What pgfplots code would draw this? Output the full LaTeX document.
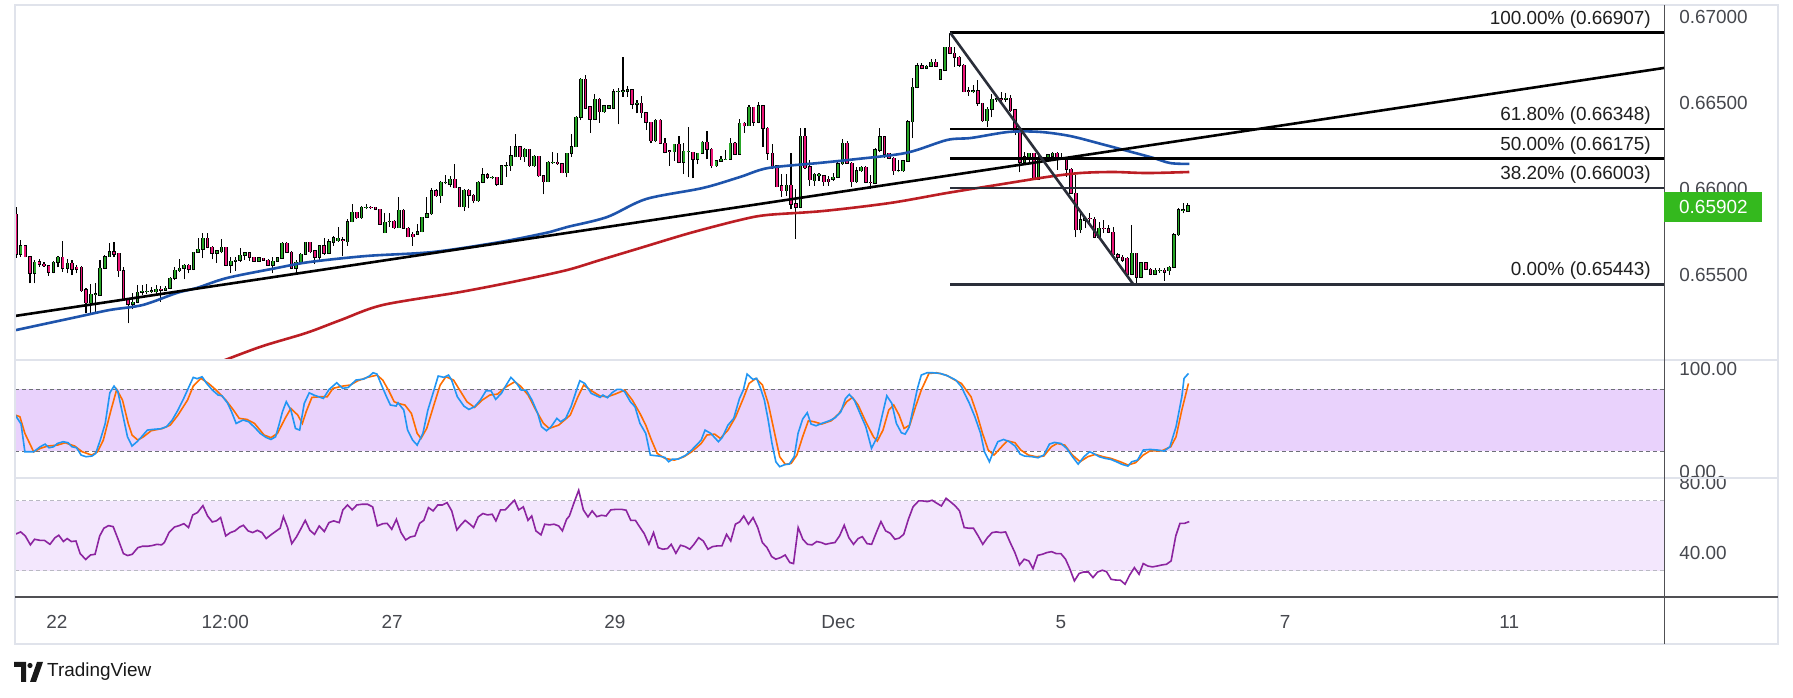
\documentclass[border=0pt]{standalone}
\usepackage{fontspec}
\setmainfont{Liberation Sans}
\usepackage{pgfplots}
\pgfplotsset{compat=1.18}
\usepackage{pgfplotstable}
\definecolor{tvgreen}{RGB}{38,166,38}
\definecolor{tvpink}{RGB}{236,22,120}
\definecolor{mablue}{RGB}{30,84,172}
\definecolor{mared}{RGB}{188,30,36}
\definecolor{fibdark}{RGB}{42,46,57}
\definecolor{gridgray}{RGB}{224,227,235}
\definecolor{axdark}{RGB}{80,80,84}
\definecolor{txt}{RGB}{70,72,78}
\definecolor{stk}{RGB}{33,150,243}
\definecolor{std}{RGB}{255,109,0}
\definecolor{stband}{RGB}{233,210,252}
\definecolor{rsiband}{RGB}{243,231,253}
\definecolor{rsiline}{RGB}{140,36,160}
\definecolor{lbgreen}{RGB}{52,185,30}
\definecolor{dashc}{RGB}{110,112,120}
\definecolor{dashl}{RGB}{185,185,195}

\pgfplotstableread{
i o h l c
0 0.65851 0.65895 0.65595 0.65618
1 0.65618 0.65701 0.65605 0.65667
2 0.65667 0.65672 0.65601 0.65605
3 0.65605 0.65609 0.65450 0.65508
4 0.65508 0.65585 0.65450 0.65572
5 0.65576 0.65589 0.65547 0.65562
6 0.65562 0.65576 0.65547 0.65552
7 0.65552 0.65556 0.65494 0.65514
8 0.65514 0.65579 0.65508 0.65572
9 0.65572 0.65609 0.65543 0.65601
10 0.65601 0.65696 0.65517 0.65537
11 0.65537 0.65589 0.65508 0.65566
12 0.65566 0.65585 0.65498 0.65531
13 0.65543 0.65556 0.65508 0.65531
14 0.65543 0.65550 0.65401 0.65407
15 0.65411 0.65420 0.65275 0.65337
16 0.65337 0.65446 0.65279 0.65386
17 0.65384 0.65450 0.65279 0.65388
18 0.65380 0.65585 0.65380 0.65537
19 0.65537 0.65614 0.65531 0.65605
20 0.65605 0.65686 0.65605 0.65634
21 0.65634 0.65688 0.65601 0.65620
22 0.65624 0.65628 0.65488 0.65523
23 0.65523 0.65543 0.65349 0.65353
24 0.65353 0.65362 0.65217 0.65327
25 0.65327 0.65392 0.65298 0.65339
26 0.65339 0.65440 0.65333 0.65397
27 0.65397 0.65440 0.65382 0.65405
28 0.65403 0.65446 0.65386 0.65405
29 0.65405 0.65426 0.65392 0.65407
30 0.65401 0.65440 0.65388 0.65415
31 0.65415 0.65434 0.65343 0.65411
32 0.65411 0.65434 0.65407 0.65420
33 0.65420 0.65485 0.65415 0.65479
34 0.65479 0.65543 0.65469 0.65527
35 0.65523 0.65589 0.65517 0.65537
36 0.65537 0.65562 0.65473 0.65556
37 0.65556 0.65560 0.65508 0.65531
38 0.65531 0.65634 0.65527 0.65630
39 0.65630 0.65711 0.65628 0.65647
40 0.65647 0.65744 0.65595 0.65711
41 0.65711 0.65740 0.65653 0.65659
42 0.65659 0.65667 0.65589 0.65624
43 0.65624 0.65640 0.65570 0.65638
44 0.65634 0.65705 0.65624 0.65659
45 0.65659 0.65663 0.65550 0.65556
46 0.65556 0.65605 0.65508 0.65579
47 0.65579 0.65605 0.65523 0.65585
48 0.65585 0.65653 0.65576 0.65612
49 0.65612 0.65634 0.65585 0.65628
50 0.65628 0.65634 0.65581 0.65601
51 0.65601 0.65605 0.65576 0.65577
52 0.65577 0.65601 0.65574 0.65597
53 0.65595 0.65597 0.65581 0.65585
54 0.65585 0.65589 0.65552 0.65554
55 0.65554 0.65605 0.65508 0.65577
56 0.65577 0.65605 0.65574 0.65597
57 0.65597 0.65692 0.65593 0.65684
58 0.65684 0.65692 0.65628 0.65630
59 0.65630 0.65636 0.65533 0.65537
60 0.65537 0.65585 0.65508 0.65572
61 0.65572 0.65628 0.65566 0.65620
62 0.65620 0.65688 0.65616 0.65688
63 0.65688 0.65692 0.65624 0.65634
64 0.65638 0.65644 0.65562 0.65601
65 0.65601 0.65673 0.65582 0.65667
66 0.65667 0.65711 0.65615 0.65624
67 0.65624 0.65705 0.65620 0.65692
68 0.65688 0.65725 0.65667 0.65715
69 0.65698 0.65775 0.65692 0.65711
70 0.65702 0.65717 0.65609 0.65701
71 0.65692 0.65822 0.65667 0.65808
72 0.65808 0.65911 0.65804 0.65863
73 0.65863 0.65866 0.65824 0.65832
74 0.65832 0.65899 0.65824 0.65892
75 0.65892 0.65909 0.65880 0.65893
76 0.65892 0.65899 0.65880 0.65891
77 0.65892 0.65896 0.65876 0.65880
78 0.65880 0.65884 0.65789 0.65793
79 0.65744 0.65857 0.65741 0.65804
80 0.65808 0.65857 0.65779 0.65810
81 0.65812 0.65818 0.65766 0.65773
82 0.65773 0.65950 0.65770 0.65874
83 0.65874 0.65880 0.65766 0.65770
84 0.65770 0.65775 0.65717 0.65721
85 0.65735 0.65750 0.65669 0.65721
86 0.65735 0.65793 0.65731 0.65750
87 0.65750 0.65837 0.65746 0.65834
88 0.65834 0.65954 0.65830 0.65853
89 0.65853 0.66002 0.65849 0.65987
90 0.65987 0.65996 0.65954 0.65959
91 0.65959 0.66047 0.65919 0.66037
92 0.66035 0.66080 0.66025 0.66037
93 0.66027 0.66074 0.66008 0.66054
94 0.66054 0.66141 0.66002 0.66006
95 0.66006 0.66012 0.65892 0.65896
96 0.65896 0.65996 0.65872 0.65992
97 0.65992 0.65998 0.65886 0.65961
98 0.65961 0.65969 0.65915 0.65930
99 0.65930 0.66043 0.65925 0.66037
100 0.66037 0.66118 0.66031 0.66080
101 0.66080 0.66089 0.66058 0.66066
102 0.66066 0.66074 0.66054 0.66067
103 0.66066 0.66070 0.66016 0.66027
104 0.66027 0.66136 0.66025 0.66132
105 0.66132 0.66157 0.66070 0.66133
106 0.66132 0.66248 0.66105 0.66190
107 0.66186 0.66316 0.66183 0.66244
108 0.66244 0.66248 0.66167 0.66186
109 0.66186 0.66235 0.66157 0.66229
110 0.66229 0.66233 0.66128 0.66132
111 0.66132 0.66196 0.66128 0.66188
112 0.66188 0.66192 0.66070 0.66076
113 0.66076 0.66080 0.65967 0.66041
114 0.66041 0.66161 0.66037 0.66153
115 0.66151 0.66211 0.66144 0.66153
116 0.66153 0.66206 0.66138 0.66145
117 0.66145 0.66149 0.66089 0.66093
118 0.66093 0.66209 0.66066 0.66206
119 0.66206 0.66316 0.66183 0.66244
120 0.66244 0.66423 0.66240 0.66415
121 0.66415 0.66642 0.66399 0.66636
122 0.66636 0.66661 0.66463 0.66467
123 0.66477 0.66481 0.66326 0.66403
124 0.66403 0.66551 0.66399 0.66520
125 0.66520 0.66526 0.66384 0.66448
126 0.66448 0.66487 0.66442 0.66481
127 0.66467 0.66487 0.66461 0.66481
128 0.66467 0.66578 0.66461 0.66564
129 0.66564 0.66583 0.66374 0.66566
130 0.66566 0.66768 0.66535 0.66570
131 0.66568 0.66597 0.66535 0.66574
132 0.66574 0.66578 0.66461 0.66490
133 0.66492 0.66516 0.66438 0.66496
134 0.66496 0.66539 0.66413 0.66442
135 0.66442 0.66448 0.66341 0.66386
136 0.66386 0.66390 0.66264 0.66279
137 0.66279 0.66403 0.66273 0.66399
138 0.66399 0.66405 0.66260 0.66264
139 0.66264 0.66293 0.66206 0.66211
140 0.66221 0.66225 0.66134 0.66219
141 0.66215 0.66260 0.66163 0.66258
142 0.66258 0.66306 0.66147 0.66153
143 0.66153 0.66264 0.66085 0.66219
144 0.66215 0.66357 0.66066 0.66217
145 0.66211 0.66215 0.66060 0.66171
146 0.66171 0.66209 0.66142 0.66206
147 0.66206 0.66279 0.66202 0.66270
148 0.66270 0.66335 0.66171 0.66229
149 0.66229 0.66235 0.66118 0.66134
150 0.66134 0.66167 0.66128 0.66161
151 0.66161 0.66192 0.66157 0.66171
152 0.66171 0.66225 0.66167 0.66172
153 0.66171 0.66293 0.66167 0.66264
154 0.66264 0.66270 0.66196 0.66200
155 0.66200 0.66403 0.66196 0.66380
156 0.66380 0.66386 0.66326 0.66366
157 0.66366 0.66487 0.66364 0.66473
158 0.66473 0.66477 0.66366 0.66386
159 0.66386 0.66506 0.66380 0.66483
160 0.66483 0.66487 0.66244 0.66351
161 0.66351 0.66357 0.66167 0.66206
162 0.66206 0.66260 0.66114 0.66122
163 0.66132 0.66138 0.66008 0.66012
164 0.66016 0.66085 0.65954 0.65989
165 0.65989 0.66085 0.65958 0.66021
166 0.66021 0.66209 0.65880 0.65909
167 0.65911 0.65996 0.65709 0.65892
168 0.65892 0.66351 0.65886 0.66306
169 0.66306 0.66351 0.66114 0.66122
170 0.66128 0.66167 0.66016 0.66051
171 0.66047 0.66089 0.66016 0.66084
172 0.66074 0.66089 0.66045 0.66085
173 0.66074 0.66080 0.66016 0.66041
174 0.66055 0.66074 0.66016 0.66041
175 0.66055 0.66089 0.66045 0.66066
176 0.66066 0.66167 0.66062 0.66144
177 0.66144 0.66287 0.66140 0.66264
178 0.66264 0.66279 0.66144 0.66147
179 0.66147 0.66153 0.66012 0.66041
180 0.66041 0.66128 0.66035 0.66103
181 0.66103 0.66134 0.66099 0.66124
182 0.66124 0.66132 0.66031 0.66037
183 0.66037 0.66080 0.65998 0.66035
184 0.66033 0.66239 0.66027 0.66225
185 0.66225 0.66351 0.66211 0.66303
186 0.66303 0.66308 0.66177 0.66200
187 0.66206 0.66209 0.66171 0.66177
188 0.66177 0.66186 0.66080 0.66103
189 0.66103 0.66167 0.66095 0.66105
190 0.66103 0.66167 0.66099 0.66161
191 0.66161 0.66399 0.66157 0.66390
192 0.66390 0.66642 0.66293 0.66589
193 0.66589 0.66729 0.66583 0.66715
194 0.66715 0.66733 0.66694 0.66700
195 0.66700 0.66719 0.66694 0.66713
196 0.66713 0.66752 0.66710 0.66735
197 0.66735 0.66754 0.66710 0.66713
198 0.66636 0.66694 0.66632 0.66690
199 0.66690 0.66826 0.66686 0.66822
200 0.66822 0.66907 0.66783 0.66787
201 0.66787 0.66826 0.66710 0.66764
202 0.66764 0.66772 0.66710 0.66719
203 0.66719 0.66723 0.66560 0.66564
204 0.66570 0.66593 0.66539 0.66568
205 0.66568 0.66603 0.66554 0.66570
206 0.66570 0.66632 0.66481 0.66496
207 0.66496 0.66500 0.66390 0.66396
208 0.66396 0.66473 0.66361 0.66461
209 0.66461 0.66551 0.66415 0.66520
210 0.66520 0.66539 0.66506 0.66522
211 0.66522 0.66564 0.66506 0.66520
212 0.66520 0.66554 0.66506 0.66525
213 0.66525 0.66545 0.66448 0.66454
214 0.66458 0.66461 0.66312 0.66332
215 0.66332 0.66337 0.66095 0.66153
216 0.66153 0.66215 0.66138 0.66186
217 0.66186 0.66209 0.66147 0.66206
218 0.66206 0.66209 0.66051 0.66056
219 0.66056 0.66196 0.66052 0.66167
220 0.66167 0.66177 0.66157 0.66169
221 0.66177 0.66202 0.66171 0.66196
222 0.66190 0.66215 0.66182 0.66206
223 0.66206 0.66211 0.66109 0.66173
224 0.66182 0.66206 0.66171 0.66180
225 0.66171 0.66177 0.66070 0.66113
226 0.66113 0.66118 0.65969 0.65973
227 0.65973 0.66080 0.65717 0.65760
228 0.65760 0.65857 0.65741 0.65818
229 0.65818 0.65838 0.65770 0.65828
230 0.65828 0.65857 0.65808 0.65826
231 0.65822 0.65838 0.65711 0.65717
232 0.65717 0.65808 0.65711 0.65770
233 0.65770 0.65818 0.65741 0.65768
234 0.65766 0.65789 0.65741 0.65746
235 0.65746 0.65779 0.65609 0.65615
236 0.65615 0.65624 0.65570 0.65601
237 0.65601 0.65615 0.65576 0.65585
238 0.65595 0.65601 0.65498 0.65504
239 0.65504 0.65789 0.65498 0.65624
240 0.65624 0.65628 0.65443 0.65485
241 0.65485 0.65576 0.65479 0.65570
242 0.65570 0.65576 0.65527 0.65531
243 0.65531 0.65537 0.65498 0.65504
244 0.65504 0.65537 0.65498 0.65527
245 0.65523 0.65537 0.65512 0.65525
246 0.65527 0.65537 0.65465 0.65514
247 0.65523 0.65551 0.65498 0.65543
248 0.65543 0.65741 0.65537 0.65731
249 0.65731 0.65886 0.65725 0.65876
250 0.65876 0.65915 0.65857 0.65878
251 0.65870 0.65915 0.65866 0.65902
}\candles

\pgfplotsset{
  tvpanel/.style={scale only axis, width=1649bp, xmin=-0.215, xmax=354.4,
    enlargelimits=false, axis line style={draw=none}, tick style={draw=none},
    major tick length=0pt, xtick=\empty, anchor=south west,
    yticklabel pos=right,
    tick label style={font=\fontsize{19}{22}\selectfont, text=txt},
    yticklabel style={anchor=west, inner sep=0pt, xshift=15bp}},
  bar/.style={draw=none, mark=none, forget plot, error bars/.cd, y dir=plus, y explicit, error mark=none},
}

\begin{document}
\begin{tikzpicture}
\path[use as bounding box, fill=white] (0,0) rectangle (1793bp,698bp);

% ---------------- main price panel ----------------
\begin{axis}[tvpanel, at={(15bp,338bp)}, height=355bp,
  ymin=0.65004, ymax=0.67068,
  ytick={0.655,0.66,0.665,0.67}, yticklabels={0.65500,0.66000,0.66500,0.67000}]
% wicks
\addplot[bar, error bar style={draw=black, line width=1.1bp}]
  table[x expr=\thisrow{i}*1.004, y=l, y error plus expr=\thisrow{h}-\thisrow{l}] {\candles};
% body outlines
\addplot[bar, error bar style={draw=black, line width=3.6bp}]
  table[x expr=\thisrow{i}*1.004, y expr={min(\thisrow{o},\thisrow{c})-0.00003},
        y error plus expr={abs(\thisrow{c}-\thisrow{o})+0.00006}] {\candles};
% bullish bodies
\addplot[restrict expr to domain={\thisrow{c}-\thisrow{o}}{0:1}, bar,
  error bar style={draw=tvgreen, line width=1.7bp}]
  table[x expr=\thisrow{i}*1.004, y expr={min(\thisrow{o},\thisrow{c})},
        y error plus expr={max(abs(\thisrow{c}-\thisrow{o}),0.00001)}] {\candles};
% bearish bodies
\addplot[restrict expr to domain={\thisrow{c}-\thisrow{o}}{-1:-0.000001}, bar,
  error bar style={draw=tvpink, line width=1.7bp}]
  table[x expr=\thisrow{i}*1.004, y expr={min(\thisrow{o},\thisrow{c})},
        y error plus expr={max(abs(\thisrow{c}-\thisrow{o}),0.00001)}] {\candles};

% red moving average
\addplot[mared, line width=2.6bp, smooth, tension=0.5] coordinates {
(41.7,0.64970) (52.5,0.65080) (62.4,0.65161) (69.9,0.65237) (78.9,0.65324)
(95.5,0.65399) (107.7,0.65463) (118.5,0.65527) (125.6,0.65585) (134.2,0.65655)
(144.9,0.65742) (155.7,0.65818) (161.5,0.65847) (173.5,0.65870) (188.0,0.65917)
(200.2,0.65975) (211.0,0.66022) (221.7,0.66068) (228.8,0.66091) (235.9,0.66097)
(243.2,0.66091) (252.3,0.66097)};
% blue moving average
\addplot[mablue, line width=2.6bp, smooth, tension=0.5] coordinates {
(0,0.65178) (13.1,0.65254) (20.2,0.65295) (27.3,0.65324) (34.6,0.65394)
(38.9,0.65423) (45.4,0.65481) (56.1,0.65539) (63.2,0.65574) (75.5,0.65609)
(89.7,0.65632) (104.1,0.65690) (114.8,0.65748) (118.5,0.65777) (127.1,0.65835)
(135.5,0.65940) (147.7,0.66004) (155.7,0.66068) (161.7,0.66120) (172.5,0.66149)
(180.0,0.66170) (191.4,0.66208) (200.2,0.66283) (205.4,0.66295) (213.5,0.66330)
(220.2,0.66330) (226.7,0.66306) (234.2,0.66254) (243.9,0.66184) (248.2,0.66149)
(252.3,0.66144)};

% rising trend line
\addplot[black, line width=2.6bp] coordinates {(-0.215,0.65260) (354.4,0.66702)};
% fibonacci levels
\addplot[black, line width=2.6bp] coordinates {(200.9,0.66907) (354.4,0.66907)};
\addplot[black, line width=2.6bp] coordinates {(200.9,0.66348) (354.4,0.66348)};
\addplot[black, line width=2.6bp] coordinates {(200.9,0.66175) (354.4,0.66175)};
\addplot[fibdark, line width=2.6bp] coordinates {(200.9,0.66003) (354.4,0.66003)};
\addplot[fibdark, line width=2.6bp] coordinates {(200.9,0.65443) (354.4,0.65443)};
% falling line
\addplot[fibdark, line width=2.6bp] coordinates {(200.9,0.66907) (240.3,0.65443)};

\begin{scope}[every node/.style={anchor=base east, inner sep=0pt, yshift=8.5bp,
   font=\fontsize{19}{22}\selectfont, text=black!88}]
\node at (axis cs:351.6,0.66907) {100.00\% (0.66907)};
\node at (axis cs:351.6,0.66348) {61.80\% (0.66348)};
\node at (axis cs:351.6,0.66175) {50.00\% (0.66175)};
\node at (axis cs:351.6,0.66003) {38.20\% (0.66003)};
\node at (axis cs:351.6,0.65443) {0.00\% (0.65443)};
\end{scope}
\end{axis}

% ---------------- stochastic panel ----------------
\begin{axis}[tvpanel, at={(15bp,220bp)}, height=118bp,
  ymin=-6.2, ymax=108.6, ytick={0,100}, yticklabels={0.00,100.00}]
\addplot[draw=none, fill=stband, forget plot] coordinates {(-0.215,20) (354.4,20) (354.4,80) (-0.215,80)};
\addplot[dashc, line width=1.1bp, dash pattern=on 4bp off 3bp] coordinates {(-0.215,80) (354.4,80)};
\addplot[dashc, line width=1.1bp, dash pattern=on 4bp off 3bp] coordinates {(-0.215,20) (354.4,20)};
% %D
\addplot[std, line width=1.6bp] coordinates {
(-0.15,55.0) (0.84,53.4) (1.91,37.2) (3.80,19.3) (5.20,22.6) (6.85,24.9) (8.91,25.8) (10.55,28.1) (12.61,24.9) (14.25,19.3) (16.31,16.1) (17.55,19.3) (18.78,30.7) (20.43,59.9) (21.66,80.0) (22.90,69.6) (24.13,46.9) (24.95,35.6) (26.19,30.7) (27.42,33.9) (29.07,39.8) (31.54,42.0) (33.18,45.3) (34.83,55.0) (36.89,69.6) (38.12,83.2) (39.77,90.7) (41.41,85.8) (43.06,79.3) (45.12,69.6) (46.76,59.9) (48.00,51.8) (49.64,50.8) (51.29,46.9) (53.35,35.6) (54.83,33.0) (56.23,37.2) (57.87,51.8) (59.11,61.5) (60.59,55.0) (61.58,46.9) (62.40,58.3) (63.63,72.2) (65.28,72.8) (66.93,72.8) (68.16,81.0) (70.22,83.2) (71.86,84.2) (73.51,88.4) (75.57,91.7) (77.63,93.9) (78.86,89.1) (80.09,79.3) (81.33,68.0) (82.15,66.4) (83.63,64.8) (85.03,56.6) (86.27,37.2) (87.09,32.3) (88.32,42.0) (89.97,66.4) (91.21,84.2) (92.44,92.3) (94.09,89.1) (95.32,80.0) (96.97,68.0) (98.61,62.5) (100.26,69.6) (101.90,74.5) (103.55,75.4) (105.20,81.9) (107.25,87.4) (108.49,83.2) (110.13,74.5) (111.78,59.9) (113.43,46.9) (114.66,42.0) (116.72,45.3) (119.19,55.0) (120.83,72.8) (122.07,84.2) (123.71,78.7) (125.61,73.5) (127.19,72.8) (128.83,75.4) (130.89,79.3) (132.53,69.6) (134.18,56.6) (135.42,45.3) (136.65,30.7) (137.88,17.7) (139.53,12.9) (141.59,11.2) (143.65,14.5) (145.29,19.3) (147.35,27.4) (148.58,35.6) (150.23,36.5) (151.46,32.3) (153.11,40.4) (154.76,53.4) (156.40,71.2) (157.64,85.8) (159.12,90.7) (160.52,84.2) (161.75,66.4) (162.99,40.4) (164.22,14.5) (165.45,7.0) (166.69,8.0) (167.92,16.1) (169.16,33.9) (170.39,49.5) (171.63,48.5) (173.27,46.3) (175.33,49.5) (176.98,56.6) (178.62,68.0) (179.86,72.2) (181.09,64.8) (182.74,48.5) (184.38,33.9) (185.21,29.7) (186.44,40.4) (187.68,59.9) (188.75,64.8) (189.90,55.0) (190.97,42.0) (192.20,45.3) (193.44,63.1) (194.67,79.3) (196.32,95.5) (197.96,96.2) (200.02,93.9) (201.67,89.7) (203.31,85.8) (205.37,72.8) (206.60,56.6) (207.84,37.2) (209.07,21.0) (210.31,16.1) (211.95,24.2) (213.19,30.0) (214.83,28.1) (216.07,21.0) (217.72,16.1) (219.36,14.5) (221.01,15.1) (222.65,24.2) (223.89,27.4) (225.53,25.8) (227.18,16.1) (228.83,9.6) (230.47,14.5) (232.12,16.8) (233.76,14.5) (235.41,12.9) (237.47,9.6) (239.11,6.4) (240.76,8.7) (242.41,16.1) (243.89,20.3) (246.42,20.3) (248.32,24.2) (249.46,33.9) (250.70,59.9) (252.13,85.8)};
% %K
\addplot[stk, line width=1.6bp] coordinates {
(-0.15,55.0) (1.09,46.3) (1.91,19.3) (3.80,19.3) (5.20,24.2) (6.27,26.8) (7.09,23.2) (8.08,24.2) (8.91,27.4) (10.14,29.1) (11.21,28.1) (12.03,24.2) (13.02,23.2) (14.01,16.1) (15.08,14.5) (16.31,15.1) (17.14,17.7) (18.12,30.7) (19.19,46.9) (20.18,76.7) (21.08,83.2) (21.91,77.7) (22.90,56.6) (23.97,33.9) (24.95,24.9) (26.02,29.1) (27.01,33.9) (28.25,40.4) (29.48,41.1) (31.13,41.7) (32.36,43.7) (33.60,50.2) (34.83,59.9) (36.06,71.2) (37.13,81.9) (38.12,91.7) (38.94,90.4) (40.02,92.3) (41.00,85.8) (42.24,79.3) (43.47,74.5) (44.29,73.8) (45.53,66.4) (46.35,58.3) (47.34,46.9) (48.82,50.2) (50.06,48.5) (51.54,42.0) (52.52,37.2) (53.76,33.3) (54.83,31.3) (55.82,33.9) (56.64,46.9) (57.30,58.3) (58.12,68.0) (59.11,59.9) (60.10,42.0) (61.00,40.4) (61.99,66.4) (63.06,76.7) (64.05,74.5) (66.10,71.2) (67.34,80.0) (68.98,86.5) (70.22,81.0) (71.45,81.9) (73.10,89.1) (74.75,90.0) (75.98,93.0) (76.80,96.2) (77.63,94.9) (78.45,85.8) (79.68,72.8) (80.51,64.8) (81.74,63.8) (82.15,67.0) (83.39,59.9) (84.21,40.4) (85.28,30.7) (86.27,25.8) (87.50,37.2) (88.57,59.9) (89.56,74.5) (90.79,93.0) (92.03,91.7) (93.02,93.9) (93.67,89.1) (94.91,72.8) (96.31,63.8) (97.38,60.5) (98.61,63.1) (99.85,69.6) (101.08,78.7) (102.15,78.7) (103.14,70.3) (104.37,76.1) (105.20,82.6) (106.43,91.7) (107.67,85.8) (108.65,79.3) (109.72,79.3) (110.96,69.6) (112.19,56.6) (113.01,43.7) (114.08,39.8) (115.07,43.7) (116.31,51.8) (117.13,48.5) (118.20,51.8) (119.35,63.1) (120.42,77.7) (121.24,88.4) (122.31,85.8) (123.71,76.1) (125.61,72.2) (126.20,74.5) (127.19,71.9) (128.17,76.7) (129.24,80.0) (130.07,80.0) (130.89,77.7) (132.12,68.0) (133.11,63.1) (134.18,46.9) (135.42,37.2) (136.40,16.1) (138.30,15.1) (139.53,13.8) (140.35,9.6) (141.18,12.2) (142.41,12.2) (144.06,16.1) (145.29,21.0) (146.53,26.8) (147.35,30.7) (148.17,40.4) (149.41,37.2) (151.05,29.1) (151.88,33.3) (153.11,45.3) (154.34,51.8) (155.58,71.2) (156.40,79.3) (157.22,94.9) (158.46,89.7) (159.28,90.7) (160.11,81.0) (160.93,69.6) (161.75,50.2) (162.57,27.4) (163.40,9.6) (164.22,4.8) (165.45,7.0) (166.28,7.3) (167.35,14.5) (168.17,37.2) (169.16,51.1) (170.15,57.3) (170.97,46.3) (172.04,44.6) (173.27,46.9) (174.92,49.5) (176.15,52.4) (177.39,58.3) (178.38,71.2) (179.20,75.1) (180.27,69.6) (181.50,56.6) (182.74,43.7) (183.97,22.6) (185.21,33.9) (186.28,55.0) (187.26,73.8) (188.33,66.4) (189.32,46.9) (190.39,37.8) (191.21,36.5) (192.04,43.0) (192.86,59.9) (193.85,81.0) (194.67,93.9) (195.91,96.2) (197.14,96.2) (198.79,95.5) (200.43,93.0) (202.08,89.1) (203.31,82.6) (204.14,74.5) (204.96,67.0) (206.19,53.4) (207.43,37.2) (208.25,19.3) (209.32,9.6) (210.31,21.0) (211.13,29.1) (212.37,31.3) (213.60,29.1) (214.83,24.9) (215.91,17.1) (216.89,15.1) (218.54,14.5) (219.77,13.5) (221.01,16.1) (222.24,26.8) (223.31,28.4) (224.71,27.4) (225.95,22.6) (227.18,14.5) (228.41,7.3) (229.65,14.5) (230.88,19.3) (231.71,17.7) (232.94,14.5) (234.18,12.9) (235.41,11.9) (236.64,9.6) (237.88,7.0) (239.11,5.4) (239.94,9.6) (241.17,11.2) (242.41,21.0) (243.89,21.6) (245.47,21.0) (246.90,20.0) (248.13,24.2) (249.46,43.7) (250.70,72.8) (251.18,90.7) (252.13,95.5)};
\end{axis}

% ---------------- RSI panel ----------------
\begin{axis}[tvpanel, at={(15bp,101bp)}, height=119bp,
  ymin=15.1, ymax=83.1, ytick={40,80}, yticklabels={40.00,80.00},
  xtick={8.8,45.0,80.9,128.8,176.8,224.7,272.9,321.1},
  xticklabels={22,12:00,27,29,Dec,5,7,11},
  xticklabel style={anchor=base, inner sep=0pt, yshift=-32bp}]
\addplot[draw=none, fill=rsiband, forget plot] coordinates {(-0.215,30) (354.4,30) (354.4,70) (-0.215,70)};
\addplot[dashl, line width=1.1bp, dash pattern=on 4bp off 3bp] coordinates {(-0.215,70) (354.4,70)};
\addplot[dashl, line width=1.1bp, dash pattern=on 4bp off 3bp] coordinates {(-0.215,30) (354.4,30)};
\addplot[rsiline, line width=1.6bp] coordinates {
(-0.2,50.9) (1.0,52.3) (2.0,50.0) (3.1,44.9) (4.0,48.1) (5.1,47.5) (6.1,47.5) (7.3,45.2) (8.4,49.0) (9.2,50.4) (10.2,46.8) (11.0,48.5) (11.9,46.8) (12.9,47.1) (13.8,39.9) (15.0,36.5) (16.0,39.1) (17.0,39.5) (18.0,50.0) (18.9,54.4) (19.9,55.9) (20.9,55.3) (22.1,47.1) (23.1,39.9) (24.0,38.8) (25.0,39.5) (26.2,43.3) (27.2,44.1) (28.3,44.1) (29.3,44.5) (30.3,45.2) (31.3,44.9) (31.9,46.2) (32.9,51.9) (34.1,55.1) (35.1,55.9) (36.1,57.0) (37.1,54.8) (38.0,62.0) (39.0,63.3) (40.2,67.3) (41.2,61.4) (42.2,58.0) (43.1,58.6) (44.0,60.5) (45.1,50.0) (46.1,51.9) (47.1,52.9) (48.1,55.1) (48.9,56.1) (49.9,52.9) (50.9,51.9) (51.9,53.2) (52.9,51.9) (53.8,48.5) (54.8,50.6) (55.8,52.5) (56.8,54.4) (57.5,61.0) (58.4,54.8) (59.3,45.6) (60.3,49.4) (61.2,53.8) (62.2,58.9) (63.2,53.2) (64.2,50.9) (65.2,55.7) (66.3,52.5) (67.3,57.6) (68.3,58.6) (69.5,57.6) (70.3,64.9) (71.3,67.7) (72.3,64.9) (73.3,67.7) (74.4,68.1) (75.6,68.1) (76.7,66.6) (77.7,55.7) (78.9,57.0) (79.8,57.2) (80.8,53.8) (81.8,59.5) (82.8,51.9) (83.8,47.7) (84.8,49.4) (85.8,50.0) (86.8,57.2) (87.7,58.9) (88.7,66.2) (89.7,64.3) (90.7,67.7) (91.7,67.7) (92.7,69.0) (93.7,64.3) (94.8,53.4) (95.8,56.7) (96.6,58.9) (97.6,56.7) (98.4,54.8) (99.4,60.9) (100.4,62.8) (101.4,62.0) (102.4,62.4) (103.2,58.6) (104.2,64.9) (105.2,64.9) (106.2,67.7) (107.2,70.4) (108.1,64.9) (109.1,66.6) (110.1,58.9) (110.9,61.4) (111.8,52.9) (112.9,50.6) (113.7,56.7) (114.7,56.3) (115.7,56.7) (116.7,55.7) (117.5,52.9) (118.4,59.5) (119.0,61.4) (120.0,69.0) (121.0,76.1) (122.0,64.9) (123.0,60.9) (123.9,64.3) (124.9,61.0) (125.9,61.8) (126.9,61.4) (127.9,64.9) (129.1,65.2) (130.2,65.2) (131.2,64.7) (132.2,58.9) (133.2,58.9) (134.2,54.8) (135.1,51.3) (136.1,45.2) (137.1,51.9) (138.1,43.3) (139.1,42.4) (140.1,42.8) (140.9,45.2) (141.9,40.1) (142.9,44.7) (143.9,43.9) (144.9,42.4) (145.8,45.2) (146.8,49.0) (147.8,47.1) (148.8,42.4) (149.8,43.9) (150.8,44.3) (151.8,44.3) (152.8,50.9) (153.7,47.1) (154.7,56.7) (155.6,58.0) (156.5,61.4) (157.5,56.7) (158.5,60.5) (159.5,54.8) (160.5,46.2) (161.5,43.3) (162.5,38.2) (163.4,36.7) (164.4,37.6) (165.4,39.1) (166.4,34.8) (167.2,34.2) (168.2,54.8) (169.2,48.1) (170.2,45.2) (171.2,44.9) (172.2,46.8) (173.2,46.2) (174.1,45.2) (175.1,45.8) (176.1,46.2) (177.1,50.0) (178.1,56.1) (179.1,49.0) (180.1,45.2) (181.1,48.5) (182.0,49.6) (183.0,45.6) (184.0,45.2) (185.0,51.9) (186.0,58.2) (187.0,52.9) (188.0,51.5) (189.0,48.1) (189.9,48.7) (190.9,50.9) (191.9,59.5) (192.9,66.6) (194.1,70.0) (195.0,70.0) (196.0,69.6) (197.0,70.4) (198.0,68.7) (199.0,67.1) (200.0,71.5) (201.0,69.4) (202.0,67.1) (202.9,64.3) (203.9,54.8) (204.9,54.4) (205.9,54.4) (206.9,50.0) (207.9,45.2) (208.9,49.0) (209.9,51.9) (210.8,52.3) (211.8,51.9) (212.8,52.3) (213.8,46.2) (214.8,40.5) (215.8,33.4) (216.8,36.7) (217.8,35.7) (218.7,31.3) (219.7,38.9) (220.7,39.5) (221.7,40.5) (222.7,41.0) (223.7,39.9) (224.7,39.9) (225.7,36.7) (226.6,31.3) (227.6,24.3) (228.6,28.5) (229.6,29.4) (230.6,29.4) (231.6,26.2) (232.6,29.4) (233.6,30.4) (234.5,29.6) (235.5,25.2) (236.5,24.8) (237.5,24.7) (238.5,22.4) (239.5,27.7) (240.5,31.9) (241.5,28.1) (242.4,34.2) (243.4,32.8) (244.4,32.3) (245.4,32.8) (246.4,33.4) (247.4,33.8) (248.4,35.7) (249.4,50.0) (250.3,57.2) (251.3,57.2) (252.3,58.2)};
\end{axis}

% ---------------- frame, separators, labels ----------------
\begin{scope}[x=1bp, y=1bp]
\draw[gridgray, line width=1.5] (15,693) -- (1778,693) -- (1778,54) -- (15,54) -- cycle;
\draw[gridgray, line width=1.5] (15,338) -- (1778,338);
\draw[gridgray, line width=1.5] (15,220) -- (1778,220);
\draw[axdark, line width=1.6] (15,101) -- (1778,101);
\draw[axdark, line width=1.0] (1664,693) -- (1664,54);
% last price label
\fill[lbgreen] (1664,476) rectangle (1762,506);
\node[anchor=west, inner sep=0pt, text=white, font=\fontsize{19}{22}\selectfont] at (1679,491) {0.65902};
% TradingView logo
\fill[black!90] (14,36) -- (26,36) -- (26,16) -- (21,16) -- (21,31) -- (14,31) -- cycle;
\fill[black!90] (30,32.5) circle (2.6);
\fill[black!90] (37,36) -- (43,36) -- (36,16) -- (30,16) -- cycle;
\node[anchor=west, inner sep=0pt, text=black!90, font=\fontsize{19}{22}\selectfont] at (47,26) {TradingView};
\end{scope}
\end{tikzpicture}
\end{document}
